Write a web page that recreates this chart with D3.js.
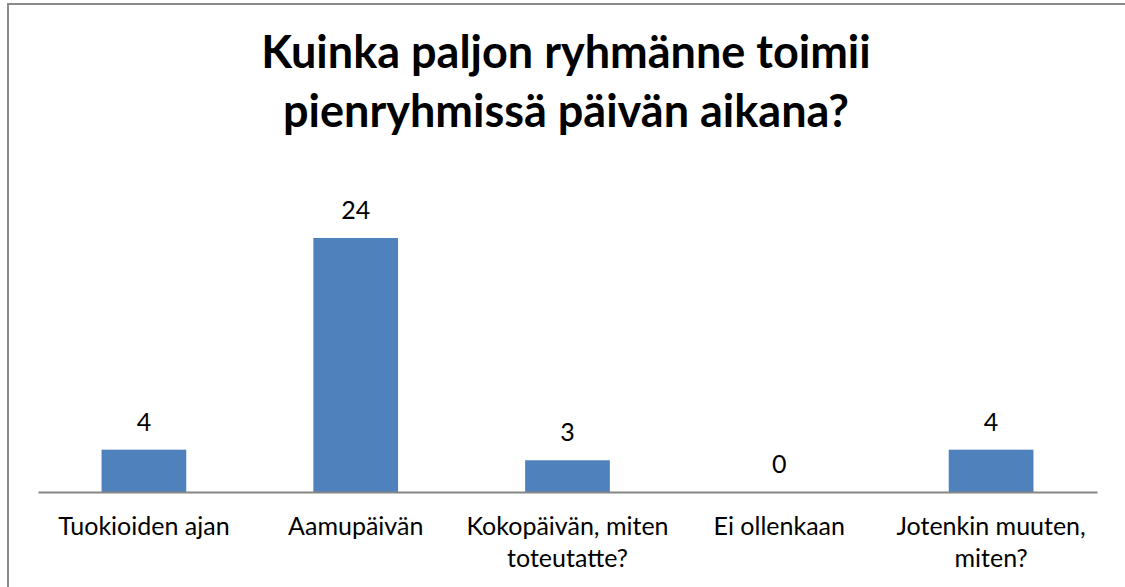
<!DOCTYPE html>
<html>
<head>
<meta charset="utf-8">
<script src="https://cdn.jsdelivr.net/npm/d3@7"></script>
<style>
  body { margin: 0; background: #fff; }
  svg { display: block; }
  .title { font-family: Lato, "Open Sans", sans-serif; font-weight: bold; font-size: 45px; fill: #000; }
  .lbl { font-family: Lato, "Open Sans", sans-serif; font-size: 25px; fill: #000; }
</style>
</head>
<body>
<script>
// chart data
var categories = ["Tuokioiden ajan", "Aamupäivän", "Kokopäivän, miten toteutatte?", "Ei ollenkaan", "Jotenkin muuten, miten?"];
var values = [4, 24, 3, 0, 4];
var titleLines = ["Kuinka paljon ryhmänne toimii", "pienryhmissä päivän aikana?"];

var fullWidth = 1125, fullHeight = 587;
var plotLeft = 38, plotRight = 1097, plotTop = 174.5, plotBottom = 492;

var svg = d3.select("body").append("svg")
    .attr("width", fullWidth)
    .attr("height", fullHeight);

// outer frame (right and bottom edges run off the picture)
svg.append("rect")
    .attr("x", 8).attr("y", 4)
    .attr("width", fullWidth + 20).attr("height", fullHeight + 20)
    .attr("fill", "none")
    .attr("stroke", "#8a8a8a")
    .attr("stroke-width", 2);

// Title
svg.append("text")
    .attr("class", "title")
    .attr("text-anchor", "middle")
    .selectAll("tspan")
    .data(titleLines)
    .enter().append("tspan")
    .attr("x", 566)
    .attr("y", function (d, i) { return 68 + i * 59; })
    .text(function (d) { return d; });

var x = d3.scaleBand()
    .domain(categories)
    .range([plotLeft, plotRight])
    .paddingInner(0.6)
    .paddingOuter(0.3);

var y = d3.scaleLinear()
    .domain([0, 30])
    .range([plotBottom, plotTop]);

// bars
svg.selectAll("rect.bar")
    .data(values)
    .enter().append("rect")
    .attr("class", "bar")
    .attr("x", function (d, i) { return x(categories[i]); })
    .attr("y", function (d) { return y(d); })
    .attr("width", x.bandwidth())
    .attr("height", function (d) { return y(0) - y(d); })
    .attr("fill", "#4f81bd");

// axis line
var axisX = d3.axisBottom(x).tickSize(0).tickFormat("");
svg.append("g")
    .attr("transform", "translate(0," + plotBottom + ")")
    .call(axisX)
    .call(function (g) {
        g.select(".domain").attr("stroke", "#868686").attr("stroke-width", 2);
    });

// value labels
svg.selectAll("text.val")
    .data(values)
    .enter().append("text")
    .attr("class", "lbl val")
    .attr("text-anchor", "middle")
    .attr("x", function (d, i) { return x(categories[i]) + x.bandwidth() / 2; })
    .attr("y", function (d) { return y(d) - 19; })
    .text(function (d) { return d; });

// category labels, wrapped to the band step
var maxW = x.step() - 8;
categories.forEach(function (c) {
    var t = svg.append("text")
        .attr("class", "lbl")
        .attr("text-anchor", "middle");
    var cx = x(c) + x.bandwidth() / 2;
    var words = c.split(" "), line = [], lineNo = 0;
    var tspan = t.append("tspan").attr("x", cx).attr("y", plotBottom + 43);
    words.forEach(function (w) {
        line.push(w);
        tspan.text(line.join(" "));
        if (tspan.node().getComputedTextLength() > maxW && line.length > 1) {
            line.pop();
            tspan.text(line.join(" "));
            line = [w];
            lineNo++;
            tspan = t.append("tspan").attr("x", cx).attr("y", plotBottom + 43 + lineNo * 32).text(w);
        }
    });
});
</script>
</body>
</html>
